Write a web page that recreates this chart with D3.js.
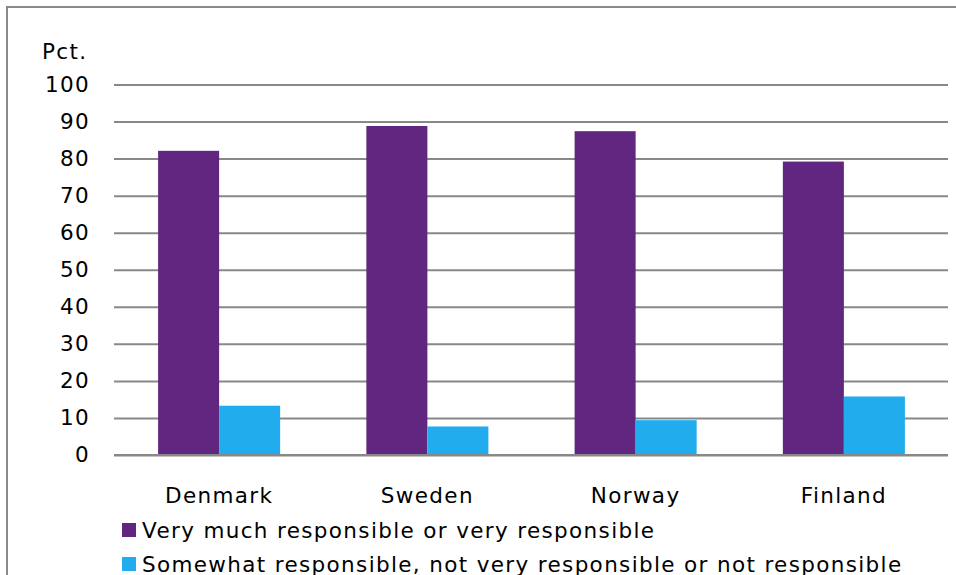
<!DOCTYPE html>
<html>
<head>
<meta charset="utf-8">
<script src="https://cdn.jsdelivr.net/npm/d3@7"></script>
<style>
  body { margin: 0; background: #fff; }
  svg { display: block; }
  text { font-family: "DejaVu Sans", Verdana, sans-serif; fill: #000; letter-spacing: 1.35px; }
</style>
</head>
<body>
<svg id="chart" width="956" height="575"></svg>
<script>
const categories = ["Denmark", "Sweden", "Norway", "Finland"];
const seriesNames = ["Very much responsible or very responsible",
                     "Somewhat responsible, not very responsible or not responsible"];
const seriesColors = ["#612680", "#21acee"];
const veryResponsible = [82.1, 88.8, 87.4, 79.2];
const lessResponsible = [13.3, 7.7, 9.4, 15.8];
const yTicks = [0, 10, 20, 30, 40, 50, 60, 70, 80, 90, 100];
const yLabel = "Pct.";

const series = [veryResponsible, lessResponsible];

const svg = d3.select("#chart");
const W = 956, H = 575;
const gridLeft = 114, gridRight = 948;
const mLeft = 115, mRight = 948, mTop = 84.5, mBottom = 455;
const FS = 21.5;

// outer frame
svg.append("rect").attr("x", 7).attr("y", 7).attr("width", W + 20).attr("height", H + 20)
  .attr("fill", "none").attr("stroke", "#8a8a8a").attr("stroke-width", 2);

const x = d3.scaleBand().domain(categories).range([mLeft, mRight]).paddingInner(0.414).paddingOuter(0.207);
const y = d3.scaleLinear().domain([0, 100]).range([mBottom, mTop]);
const xs = d3.scaleBand().domain([0, 1]).range([0, x.bandwidth()]).padding(0);

// gridlines
const yAxis = d3.axisLeft(y).tickValues(yTicks).tickSize(-(gridRight - gridLeft)).tickPadding(24);
const gy = svg.append("g").attr("transform", `translate(${gridLeft},0)`).call(yAxis);
gy.select(".domain").remove();
gy.selectAll(".tick line").attr("stroke", "#888").attr("stroke-width", 2);
gy.selectAll(".tick text").attr("font-size", FS).attr("fill", "#000")
  .attr("font-family", "DejaVu Sans, Verdana, sans-serif");

svg.append("text").attr("x", 42).attr("y", 59).attr("font-size", FS).text(yLabel);

// bars
const groups = svg.append("g").selectAll("g").data(categories).join("g")
  .attr("transform", d => `translate(${x(d)},0)`);
groups.selectAll("rect").data((d, i) => series.map((s, k) => ({ k, v: s[i] }))).join("rect")
  .attr("x", d => xs(d.k))
  .attr("width", xs.bandwidth())
  .attr("y", d => y(d.v))
  .attr("height", d => y(0) - y(d.v))
  .attr("fill", d => seriesColors[d.k]);

// redraw zero line above bars
svg.append("line").attr("x1", gridLeft).attr("x2", gridRight).attr("y1", y(0)).attr("y2", y(0))
  .attr("stroke", "#888").attr("stroke-width", 2);

// x axis labels
const xAxis = d3.axisBottom(x).tickSize(0).tickPadding(33);
const gx = svg.append("g").attr("transform", `translate(0,${mBottom})`).call(xAxis);
gx.select(".domain").remove();
gx.selectAll(".tick text").attr("font-size", FS).attr("fill", "#000")
  .attr("font-family", "DejaVu Sans, Verdana, sans-serif");

// legend
const lg = svg.append("g").selectAll("g").data(seriesNames).join("g")
  .attr("transform", (d, i) => `translate(122,${523 + i * 34})`);
lg.append("rect").attr("width", 14).attr("height", 14).attr("fill", (d, i) => seriesColors[i]);
lg.append("text").attr("x", 20).attr("y", 14.5).attr("font-size", FS).text(d => d);
</script>
</body>
</html>
